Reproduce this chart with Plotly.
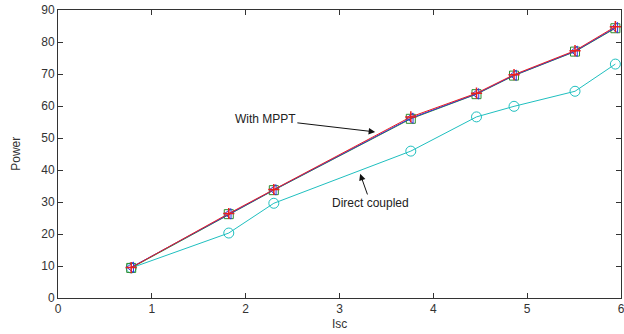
import plotly.graph_objects as go

isc = [0.78, 1.82, 2.30, 3.76, 4.46, 4.86, 5.51, 5.94]
p_mppt_a = [9.5, 26.4, 33.9, 56.6, 64.0, 69.8, 77.3, 84.8]
p_mppt_b = [9.6, 26.3, 33.8, 56.2, 63.8, 69.6, 77.1, 84.5]
p_mppt_c = [9.4, 26.2, 33.7, 56.0, 63.7, 69.5, 77.0, 84.3]
p_direct = [9.4, 20.3, 29.6, 45.9, 56.6, 59.9, 64.6, 73.1]

x_ticks = [0, 1, 2, 3, 4, 5, 6]
y_ticks = [0, 10, 20, 30, 40, 50, 60, 70, 80, 90]

fig = go.Figure()
fig.add_trace(go.Scatter(x=isc, y=p_direct, mode="lines+markers",
                         line=dict(color="#1fbfbf", width=1),
                         marker=dict(symbol="circle-open", size=10, color="#1fbfbf", line=dict(width=1))))
fig.add_trace(go.Scatter(x=isc, y=p_mppt_c, mode="lines+markers",
                         line=dict(color="#2e8b2e", width=1),
                         marker=dict(symbol="square-open", size=9, color="#2e8b2e", line=dict(width=1))))
fig.add_trace(go.Scatter(x=isc, y=p_mppt_b, mode="lines+markers",
                         line=dict(color="#3030e0", width=1),
                         marker=dict(symbol="triangle-left-open", size=9, color="#3030e0", line=dict(width=1))))
fig.add_trace(go.Scatter(x=isc, y=p_mppt_a, mode="lines+markers",
                         line=dict(color="#e82020", width=1),
                         marker=dict(symbol="cross-thin", size=8, color="#e82020", line=dict(width=1.5, color="#e82020"))))

fig.add_annotation(x=3.38, y=51.9, ax=2.21, ay=55.9, axref="x", ayref="y",
                   text="With MPPT", showarrow=True, arrowhead=2, arrowsize=1.3,
                   arrowwidth=1, arrowcolor="#111", font=dict(size=12, color="#222"))
fig.add_annotation(x=3.22, y=38.8, ax=3.33, ay=29.7, axref="x", ayref="y",
                   text="Direct coupled", showarrow=True, arrowhead=2, arrowsize=1.3,
                   arrowwidth=1, arrowcolor="#111", font=dict(size=12, color="#222"))

fig.add_annotation(x=0.5, y=-0.06, xref="paper", yref="paper", yanchor="top",
                   text="Isc", showarrow=False, font=dict(size=12, color="#333"))
fig.add_annotation(x=-0.075, y=0.5, xref="paper", yref="paper", xanchor="center",
                   text="Power", textangle=-90, showarrow=False, font=dict(size=12, color="#333"))

axis_common = dict(showgrid=False, zeroline=False, showline=True, linecolor="#333",
                   linewidth=1, mirror="ticks", ticks="inside", ticklen=5, automargin=False,
                   ticklabeloverflow="allow",
                   tickcolor="#333", tickfont=dict(size=12, color="#333"))
fig.update_xaxes(range=[0, 6], tickvals=x_ticks, **axis_common)
fig.update_yaxes(range=[0, 90], tickvals=y_ticks, **axis_common)

fig.update_layout(width=624, height=334, showlegend=False,
                  margin=dict(l=58, r=3, t=10, b=36),
                  plot_bgcolor="white", paper_bgcolor="white",
                  font=dict(family="Liberation Sans, Arial, sans-serif"))
fig.write_html("out.html", config={"displayModeBar": False},
               post_script="document.body.style.margin='0';document.body.style.overflow='hidden';")
